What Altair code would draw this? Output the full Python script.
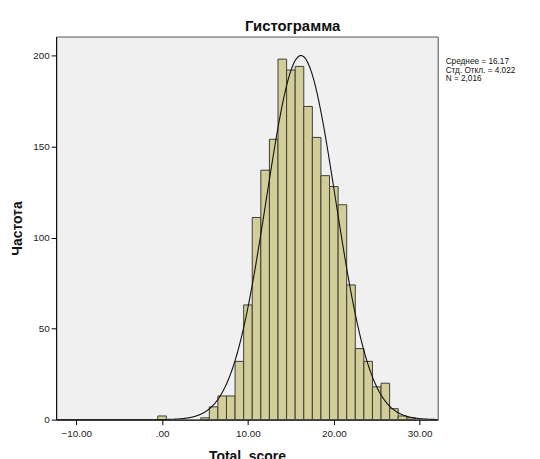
import altair as alt
import pandas as pd

# ---- data ----
score_values = [0, 5, 6, 7, 8, 9, 10, 11, 12, 13, 14, 15, 16, 17, 18, 19, 20,
                21, 22, 23, 24, 25, 26, 27, 28, 29]
frequencies = [2, 1, 7, 13, 13, 32, 63, 111, 137, 154, 198, 192, 194, 172, 155,
               134, 128, 118, 74, 39, 32, 18, 20, 6, 2, 1]
x_ticks = [-10, 0, 10, 20, 30]
y_ticks = [0, 50, 100, 150, 200]
stats_lines = ["Среднее = 16.17", "\u00a0Стд. Откл. = 4.022", "N = 2,016"]
MEAN = 16.17
SD = 4.022
N = 2016
BIN_WIDTH = 1

W, H = 384.5, 386
FONT = "Liberation Sans"

df = pd.DataFrame({"score": score_values, "count": frequencies})

xscale = alt.Scale(domain=[-12.34, 32.1], nice=False, zero=False)
yscale = alt.Scale(domain=[0, 210.4], nice=False)

x_axis = alt.Axis(values=x_ticks,
                  labelExpr="datum.value == 0 ? '.00' : format(datum.value, '.2f')",
                  labelPadding=4, titleX=W / 2, titleY=41,
                  titleBaseline="alphabetic")
y_axis = alt.Axis(values=y_ticks, labelPadding=2, titleX=-38.5, titleY=H / 2,
                  titleBaseline="middle", titleAngle=-90)

bars = alt.Chart(df).transform_calculate(
    x0=f"datum.score - {BIN_WIDTH}/2", x1=f"datum.score + {BIN_WIDTH}/2",
    base="0"
).mark_rect(fill="#D3CE97", stroke="#3c3c3c", strokeWidth=1, opacity=1).encode(
    x=alt.X("x0:Q", scale=xscale, axis=x_axis, title="Total_score"),
    x2="x1:Q",
    y=alt.Y("count:Q", scale=yscale, axis=y_axis, title="Частота"),
    y2="base:Q",
)

curve = alt.Chart(alt.sequence(-12.3, 32.1, 0.05, as_="t")).transform_calculate(
    dens=f"{N}*{BIN_WIDTH}*exp(-pow(datum.t-{MEAN},2)/(2*{SD}*{SD}))/({SD}*sqrt(2*PI))"
).mark_line(color="#111111", strokeWidth=1.1, clip=True).encode(
    x=alt.X("t:Q", scale=xscale, axis=x_axis, title="Total_score"),
    y=alt.Y("dens:Q", scale=yscale, axis=y_axis, title="Частота"),
)

stats = alt.Chart(pd.DataFrame({"k": [0]})).mark_text(
    text=stats_lines, align="left", baseline="top", fontSize=8.3,
    lineHeight=8.5, font=FONT, color="#111111"
).encode(x=alt.value(W + 8), y=alt.value(21))

chart = alt.layer(bars, curve, stats).properties(
    width=W, height=H,
    title=alt.TitleParams("Гистограмма", font=FONT, fontSize=15,
                          fontWeight="bold", anchor="middle", dx=46,
                          offset=3, color="#111111"),
    autosize=alt.AutoSizeParams(type="none"),
    padding={"left": 48.5, "top": 27, "right": 95, "bottom": 50},
).configure_view(
    fill="#F0F0F0", stroke="#555555", strokeWidth=1
).configure_axis(
    grid=False, domainColor="#000000", tickColor="#000000", tickSize=5,
    labelFont=FONT, labelFontSize=10, labelColor="#222222",
    titleFont=FONT, titleFontSize=14, titleFontWeight="bold",
    titleColor="#111111",
)

chart.save("out.html", embed_options={"renderer": "svg", "actions": False})
